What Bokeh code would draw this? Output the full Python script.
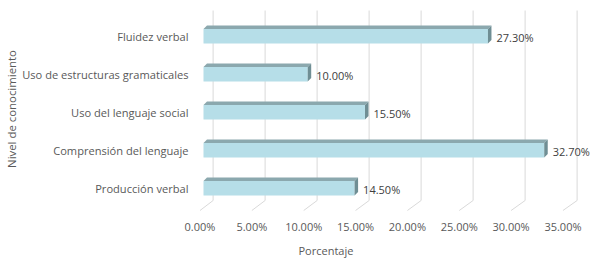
from bokeh.plotting import figure
from bokeh.models import Range1d, LinearAxis, FixedTicker, PrintfTickFormatter, ColumnDataSource, Title
from bokeh.core.properties import value
from bokeh.embed import file_html
from bokeh.resources import INLINE

# ---- data ----
categories = ["Producción verbal", "Comprensión del lenguaje", "Uso del lenguaje social",
              "Uso de estructuras gramaticales", "Fluidez verbal"]
percentages = [14.5, 32.7, 15.5, 10.0, 27.3]
x_ticks = [0, 5, 10, 15, 20, 25, 30, 35]
x_title = "Porcentaje"
y_title = "Nivel de conocimiento"

# ---- layout (screen px) ----
W, H = 597, 263
FL, FR, FT, FB = 192, 592, 5, 212
FONT = "Open Sans"
GREY = "#595959"

def rng(a, k):
    return Range1d(start=(FL - a) / k, end=(FR - a) / k)

# bars scale, front (axis) scale, back (gridline) scale
KB, AB = 10.42, 203.0
KF, AF = 10.37, 199.5
KG, AG = 10.40, 212.6
# y scale: unit spacing px, position of index 0
KY, AY = 37.98, 187.7

p = figure(width=W, height=H, output_backend="svg", toolbar_location=None,
           x_axis_type=None, y_axis_type=None,
           x_range=rng(AB, KB),
           y_range=Range1d(start=(AY - FB) / KY, end=(AY - FT) / KY),
           min_border_left=FL, min_border_right=W - FR,
           min_border_top=FT, min_border_bottom=H - FB)
p.extra_x_ranges = {"front": rng(AF, KF), "back": rng(AG, KG)}
p.outline_line_color = None
p.background_fill_color = "white"
p.border_fill_color = "white"

def uy(px):
    return (AY - px) / KY

# gridlines on back wall
gx = x_ticks
p.segment(x0=gx, x1=gx, y0=[uy(10)] * len(gx), y1=[uy(200)] * len(gx),
          x_range_name="back", line_color="#d9d9d9", line_width=1)
# floor diagonals from back wall to front edge
fx = [((AF + KF * t) - AG) / KG for t in x_ticks]
p.segment(x0=gx, x1=fx, y0=[uy(200)] * len(gx), y1=[uy(210)] * len(gx),
          x_range_name="back", line_color="#d9d9d9", line_width=1)

# bars
ys = list(range(len(categories)))
hh = 14.5 / KY / 2
dx = 3.5 / KB
dy = 3.5 / KY
p.hbar(y=ys, left=0, right=percentages, height=2 * hh,
       fill_color="#b6dee8", line_color=None)
top_xs, top_ys, side_xs, side_ys = [], [], [], []
for y, v in zip(ys, percentages):
    top_xs.append([0, v, v + dx, dx])
    top_ys.append([y + hh, y + hh, y + hh + dy, y + hh + dy])
    side_xs.append([v, v, v + dx, v + dx])
    side_ys.append([y - hh, y + hh, y + hh + dy, y - hh + dy])
p.patches(top_xs, top_ys, fill_color="#8ba8ae", line_color=None)
p.patches(side_xs, side_ys, fill_color="#6f8e94", line_color=None)

# value labels
src = ColumnDataSource(dict(x=percentages, y=ys, t=[f"{v:.2f}%" for v in percentages]))
p.text(x="x", y="y", text="t", source=src, x_offset=8.5, y_offset=1,
       text_font=value(FONT), text_font_size="11px", text_color="#404040",
       text_baseline="middle", text_align="left")

# x axis (front edge)
xa = LinearAxis(x_range_name="front", ticker=FixedTicker(ticks=x_ticks),
                formatter=PrintfTickFormatter(format="%.2f%%"))
xa.axis_line_color = None
xa.major_tick_line_color = None
xa.minor_tick_line_color = None
xa.major_tick_in = 0
xa.major_tick_out = 0
xa.major_label_standoff = 6
xa.major_label_text_font = FONT
xa.major_label_text_font_size = "11px"
xa.major_label_text_color = GREY
p.add_layout(xa, "below")

# y axis (categories) with its title
ya = LinearAxis(ticker=FixedTicker(ticks=ys),
                major_label_overrides={i: c for i, c in enumerate(categories)},
                axis_label=y_title)
ya.axis_line_color = None
ya.major_tick_line_color = None
ya.minor_tick_line_color = None
ya.major_tick_in = 0
ya.major_tick_out = 0
ya.major_label_standoff = FL - 188
ya.major_label_text_font = FONT
ya.major_label_text_font_size = "11.1px"
ya.major_label_text_color = GREY
ya.axis_label_standoff = 0
ya.axis_label_text_font = FONT
ya.axis_label_text_font_size = "11.4px"
ya.axis_label_text_font_style = "normal"
ya.axis_label_text_color = GREY
ya.axis_label_text_line_height = 1.0
p.add_layout(ya, "left")

# x title
p.add_layout(Title(text=x_title, align="left", offset=106, standoff=9,
                   text_font=FONT, text_font_size="11px", text_font_style="normal",
                   text_color=GREY), "below")

open("out.html", "w").write(file_html(p, INLINE))
